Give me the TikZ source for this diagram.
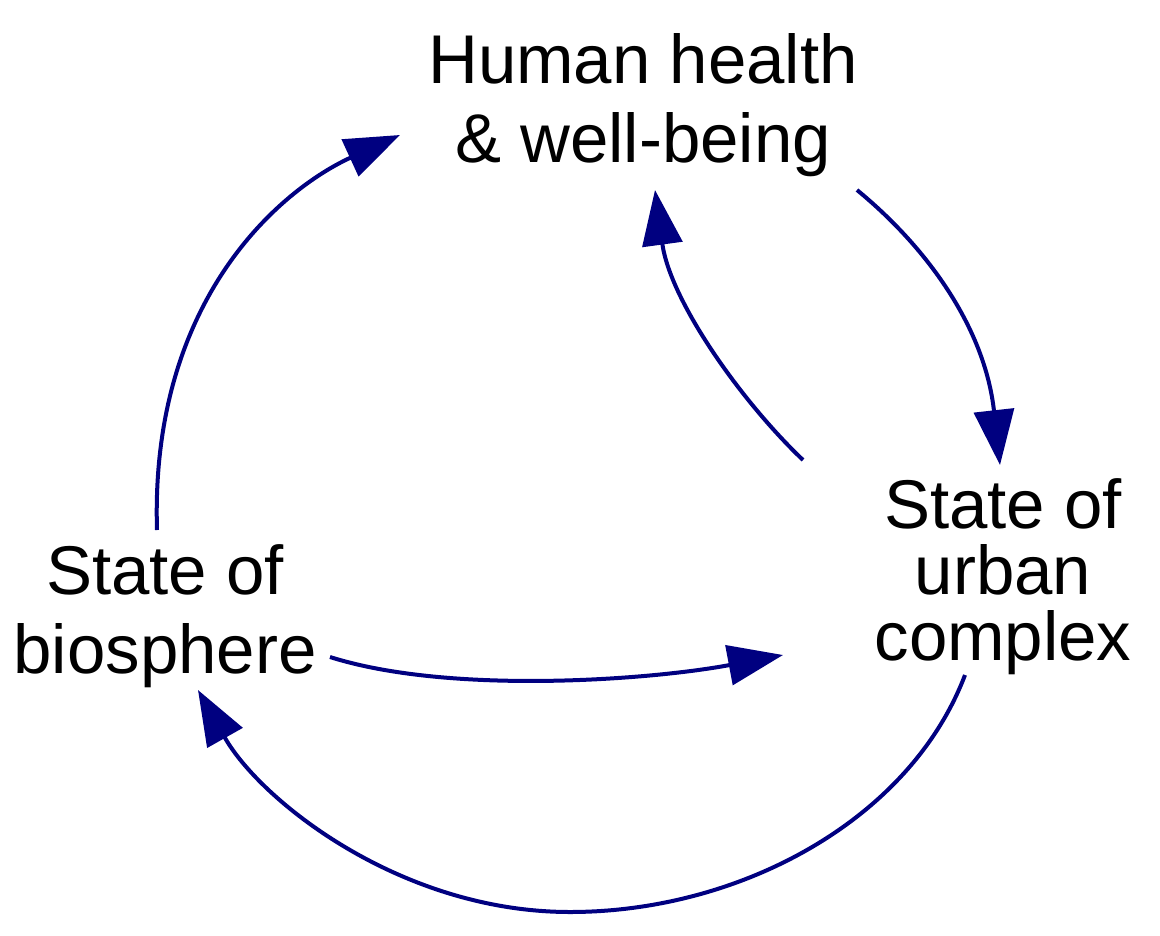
\documentclass[tikz,border=0pt]{standalone}
\usepackage{fontspec}
\setmainfont{Liberation Sans}
\usetikzlibrary{arrows.meta}
\definecolor{arr}{HTML}{000080}
\begin{document}
\begin{tikzpicture}[x=1pt,y=-1pt,
  lbl/.style={align=center,font=\fontsize{69}{79}\selectfont,inner sep=0},
  link/.style={draw=arr,line width=4pt,-{Triangle[length=55pt,width=40pt]},fill=none}]
\useasboundingbox (0,0) rectangle (1160,935);
\node[lbl,anchor=base] (h) at (643,162) {Human health\\\& well-being};
\node[lbl,anchor=base] (b) at (165,673) {State of\\biosphere};
\node[lbl,anchor=base,font=\fontsize{69}{66}\selectfont] (u) at (1003,660) {State of\\urban\\complex};
\coordinate (b1) at (157,530); \coordinate (h1) at (400,135);
\coordinate (h2) at (857,190); \coordinate (u1) at (1000,465);
\coordinate (u2) at (803,460); \coordinate (h3) at (655,190);
\coordinate (b2) at (330,657); \coordinate (u3) at (783,655);
\coordinate (u4) at (965,675); \coordinate (b3) at (198,690); \coordinate (m) at (570,912);
\draw[link] (b1) .. controls (150,300) and (280,190) .. (h1);
\draw[link] (h2) .. controls (930,250) and (985,330) .. (u1);
\draw[link] (u2) .. controls (740,400) and (670,300) .. (h3);
\draw[link] (b2) .. controls (450,695) and (650,680) .. (u3);
\draw[link] (u4) .. controls (910,820) and (740,912) .. (m) .. controls (400,912) and (260,800) .. (b3);
\end{tikzpicture}
\end{document}
